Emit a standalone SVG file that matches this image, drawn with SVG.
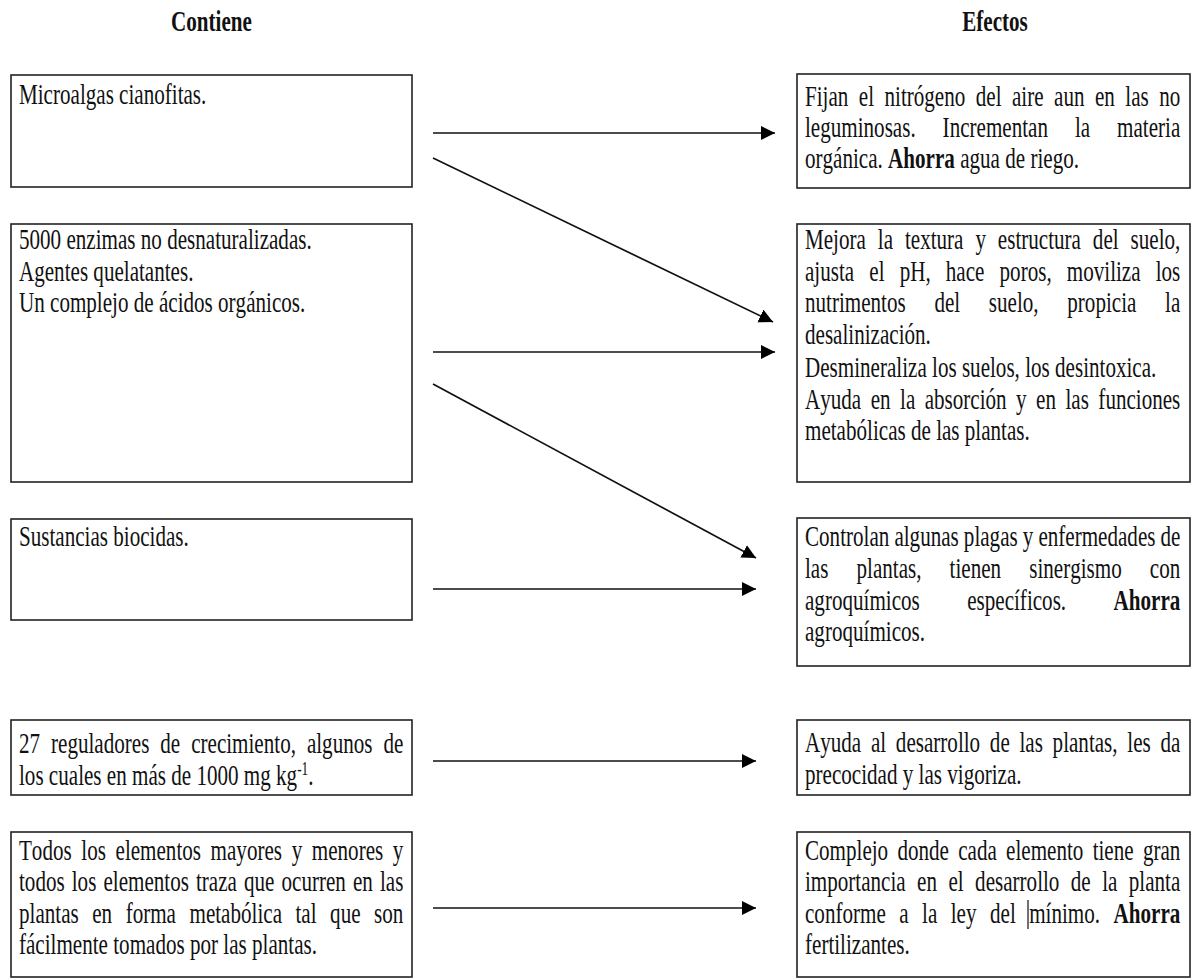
<svg xmlns="http://www.w3.org/2000/svg" width="1196" height="980" viewBox="0 0 1196 980">
<style>
.box{fill:#fff;stroke:#222;stroke-width:1.6}
.t{font-family:'Liberation Serif','Times New Roman',serif;font-size:28.5px;fill:#111;font-kerning:none}
.h{font-weight:bold;text-anchor:middle}
.b{font-weight:bold}
.c{stroke:#111;stroke-width:1.7;fill:none;marker-end:url(#ah)}
</style>
<defs>
<marker id="ah" markerUnits="userSpaceOnUse" markerWidth="16" markerHeight="16" refX="14" refY="7" orient="auto" viewBox="0 0 16 16">
<path d="M0,0 L14,7 L0,14 z" fill="#000"/>
</marker>
</defs>
<rect width="1196" height="980" fill="#fff"/>
<g id="headers" transform="scale(0.74,1)">
<text class="t h" x="285.8" y="31">Contiene</text>
<text class="t h" x="1344.6" y="31">Efectos</text>
</g>
<g id="contiene1">
<rect class="box" x="11" y="75" width="401" height="112"/>
<g transform="scale(0.74,1)"><text class="t" x="25.68" y="104">Microalgas cianofitas.</text></g>
</g>
<g id="contiene2">
<rect class="box" x="11" y="224" width="401" height="258"/>
<g transform="scale(0.74,1)">
<text class="t" x="25.68" y="249">5000 enzimas no desnaturalizadas.</text>
<text class="t" x="25.68" y="281">Agentes quelatantes.</text>
<text class="t" x="25.68" y="312">Un complejo de ácidos orgánicos.</text>
</g>
</g>
<g id="contiene3">
<rect class="box" x="11" y="519" width="401" height="101"/>
<g transform="scale(0.74,1)"><text class="t" x="25.68" y="546">Sustancias biocidas.</text></g>
</g>
<g id="contiene4">
<rect class="box" x="11" y="720" width="401" height="75"/>
<g transform="scale(0.74,1)">
<text class="t" x="25.68" y="753" style="word-spacing:7.67px">27 reguladores de crecimiento, algunos de</text>
<text class="t" x="25.68" y="785">los cuales en más de 1000 mg kg<tspan font-size="18" dy="-10">-1</tspan><tspan dy="10">.</tspan></text>
</g>
</g>
<g id="contiene5">
<rect class="box" x="11" y="832" width="401" height="145"/>
<g transform="scale(0.74,1)">
<text class="t" x="25.68" y="860" style="word-spacing:5.86px">Todos los elementos mayores y menores y</text>
<text class="t" x="25.68" y="891" style="word-spacing:2.43px">todos los elementos traza que ocurren en las</text>
<text class="t" x="25.68" y="923" style="word-spacing:11.14px">plantas en forma metabólica tal que son</text>
<text class="t" x="25.68" y="954">fácilmente tomados por las plantas.</text>
</g>
</g>
<g id="efecto1">
<rect class="box" x="797" y="74" width="393" height="114"/>
<g transform="scale(0.74,1)">
<text class="t" x="1087.84" y="106" style="word-spacing:7.03px">Fijan el nitrógeno del aire aun en las no</text>
<text class="t" x="1087.84" y="137" style="word-spacing:29.29px">leguminosas. Incrementan la materia</text>
<text class="t" x="1087.84" y="168">orgánica. <tspan class="b">Ahorra</tspan> agua de riego.</text>
</g>
</g>
<g id="efecto2">
<rect class="box" x="797" y="224" width="393" height="258"/>
<g transform="scale(0.74,1)">
<text class="t" x="1087.84" y="249" style="word-spacing:8.98px">Mejora la textura y estructura del suelo,</text>
<text class="t" x="1087.84" y="281" style="word-spacing:13.32px">ajusta el pH, hace poros, moviliza los</text>
<text class="t" x="1087.84" y="312" style="word-spacing:31.63px">nutrimentos del suelo, propicia la</text>
<text class="t" x="1087.84" y="344">desalinización.</text>
<text class="t" x="1087.84" y="377">Desmineraliza los suelos, los desintoxica.</text>
<text class="t" x="1087.84" y="409" style="word-spacing:5.66px">Ayuda en la absorción y en las funciones</text>
<text class="t" x="1087.84" y="440">metabólicas de las plantas.</text>
</g>
</g>
<g id="efecto3">
<rect class="box" x="797" y="518" width="393" height="148"/>
<g transform="scale(0.74,1)">
<text class="t" x="1087.84" y="546" style="word-spacing:-0.28px">Controlan algunas plagas y enfermedades de</text>
<text class="t" x="1087.84" y="578" style="word-spacing:30.84px">las plantas, tienen sinergismo con</text>
<text class="t" x="1087.84" y="610" style="word-spacing:56.96px">agroquímicos específicos. <tspan class="b">Ahorra</tspan></text>
<text class="t" x="1087.84" y="641">agroquímicos.</text>
</g>
</g>
<g id="efecto4">
<rect class="box" x="797" y="720" width="393" height="75"/>
<g transform="scale(0.74,1)">
<text class="t" x="1087.84" y="752" style="word-spacing:6.00px">Ayuda al desarrollo de las plantas, les da</text>
<text class="t" x="1087.84" y="784">precocidad y las vigoriza.</text>
</g>
</g>
<g id="efecto5">
<rect class="box" x="797" y="832" width="393" height="145"/>
<g transform="scale(0.74,1)">
<text class="t" x="1087.84" y="860" style="word-spacing:5.40px">Complejo donde cada elemento tiene gran</text>
<text class="t" x="1087.84" y="891" style="word-spacing:8.32px">importancia en el desarrollo de la planta</text>
<text class="t" x="1087.84" y="923" style="word-spacing:11.08px">conforme a la ley del mínimo. <tspan class="b">Ahorra</tspan></text>
<text class="t" x="1087.84" y="954">fertilizantes.</text>
</g>
<line x1="1028" y1="900" x2="1028" y2="929" stroke="#111" stroke-width="1.2"/>
</g>
<g id="connectors">
<line class="c" x1="433" y1="133" x2="775" y2="133"/>
<line class="c" x1="433" y1="158" x2="773" y2="322"/>
<line class="c" x1="433" y1="352" x2="775" y2="352"/>
<line class="c" x1="433" y1="384" x2="756" y2="558"/>
<line class="c" x1="433" y1="589" x2="756" y2="589"/>
<line class="c" x1="433" y1="761" x2="756" y2="761"/>
<line class="c" x1="433" y1="908" x2="756" y2="908"/>
</g>
</svg>
